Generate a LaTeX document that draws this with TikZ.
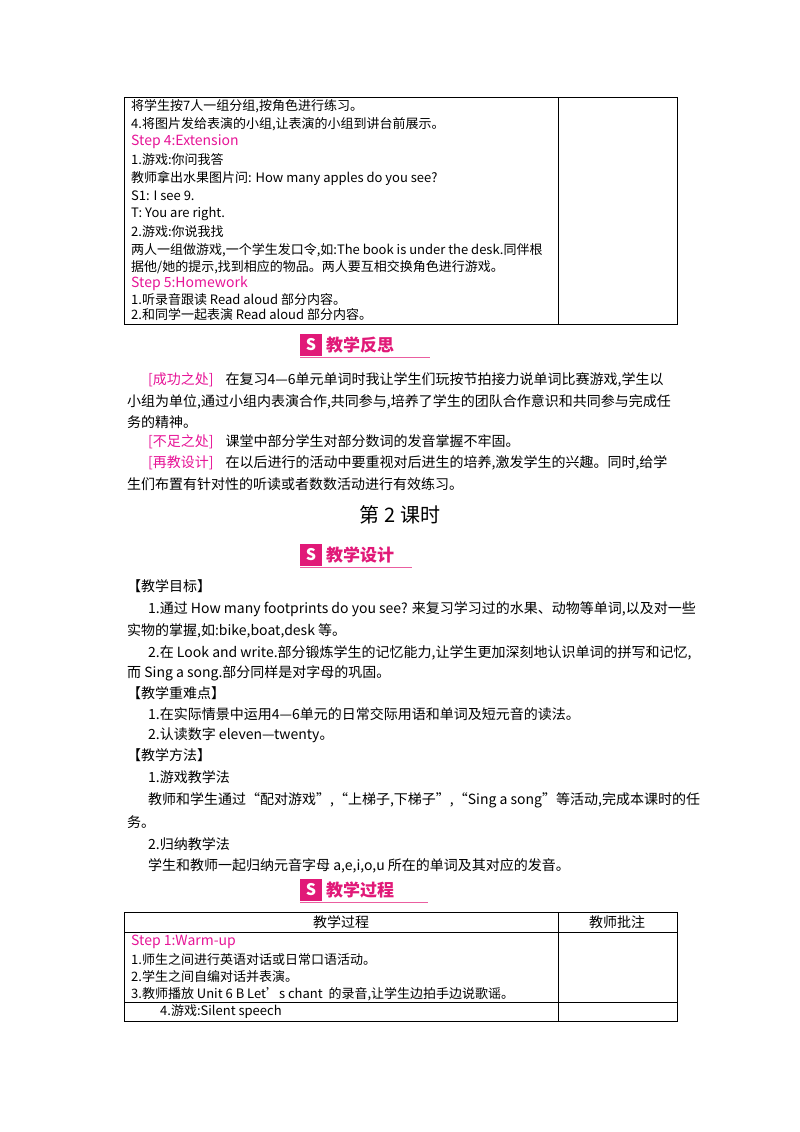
\documentclass[tikz,border=0pt]{standalone}
\usepackage{fontspec}
\setmainfont{Noto Sans CJK SC}
\definecolor{pk}{RGB}{230,20,150}
\definecolor{bn}{RGB}{225,25,120}
\begin{document}
\begin{tikzpicture}[x=1pt,y=-1pt,
 t/.style={anchor=west,inner sep=0pt,font=\fontsize{13}{14}\selectfont},
 b/.style={anchor=west,inner sep=0pt,font=\fontsize{14}{16}\selectfont},
 pkt/.style={t,text=pk,font=\fontsize{14}{16}\selectfont},
 bline/.style={line width=0.8pt}]
\useasboundingbox (0,0) rectangle (800,1132);
% table 1
\draw[bline] (124,97) rectangle (677,324) (558,97) -- (558,324);
\node[t] (a1) at (131,106) {将学生按7人一组分组,按角色进行练习。};
\node[t] (a2) at (131,124) {4.将图片发给表演的小组,让表演的小组到讲台前展示。};
\node[pkt] (a3) at (131,142) {Step 4:Extension};
\node[t] (a4) at (131,160) {1.游戏:你问我答};
\node[t] (a5) at (131,178) {教师拿出水果图片问: How many apples do you see?};
\node[t] (a6) at (131,196) {S1: I see 9.};
\node[t] (a7) at (131,214) {T: You are right.};
\node[t] (a8) at (131,232) {2.游戏:你说我找};
\node[t] (a9) at (131,250) {两人一组做游戏,一个学生发口令,如:The book is under the desk.同伴根};
\node[t] (a10) at (131,267) {据他/她的提示,找到相应的物品。两人要互相交换角色进行游戏。};
\node[pkt] (a11) at (131,284) {Step 5:Homework};
\node[t] (a12) at (131,300) {1.听录音跟读 Read aloud 部分内容。};
\node[t] (a13) at (131,315) {2.和同学一起表演 Read aloud 部分内容。};
% banners
\foreach \y/\w/\txt/\nm in {345/430/教学反思/ban1,555/412/教学设计/ban2,890/428/教学过程/ban3}{
 \fill[bn] (300,\y-11) rectangle (322,\y+11);
 \node[text=white,font=\bfseries\fontsize{16}{16}\selectfont,inner sep=0pt] at (311,\y) {S};
 \node[anchor=west,text=bn,font=\bfseries\fontsize{17}{18}\selectfont,inner sep=0pt] (\nm) at (326,\y) {\txt};
 \draw[bn!70,line width=1pt] (300,\y+12) -- (\w,\y+12);
}
% reflection
\node[b] (r1) at (148,380) {\textcolor{pk}{[成功之处]}\hspace{12pt}在复习4—6单元单词时我让学生们玩按节拍接力说单词比赛游戏,学生以};
\node[b] (r2) at (127,402) {小组为单位,通过小组内表演合作,共同参与,培养了学生的团队合作意识和共同参与完成任};
\node[b] (r3) at (127,422) {务的精神。};
\node[b] (r4) at (148,442) {\textcolor{pk}{[不足之处]}\hspace{12pt}课堂中部分学生对部分数词的发音掌握不牢固。};
\node[b] (r5) at (148,463) {\textcolor{pk}{[再教设计]}\hspace{12pt}在以后进行的活动中要重视对后进生的培养,激发学生的兴趣。同时,给学};
\node[b] (r6) at (127,484) {生们布置有针对性的听读或者数数活动进行有效练习。};
\node[inner sep=0pt,font=\fontsize{20}{22}\selectfont] (h2) at (400,515) {第 2 课时};
% design
\node[b] (d1) at (127,586) {【教学目标】};
\node[b] (d2) at (148,609) {1.通过 How many footprints do you see? 来复习学习过的水果、动物等单词,以及对一些};
\node[b] (d3) at (127,631) {实物的掌握,如:bike,boat,desk 等。};
\node[b] (d4) at (148,653) {2.在 Look and write.部分锻炼学生的记忆能力,让学生更加深刻地认识单词的拼写和记忆,};
\node[b] (d5) at (127,673) {而 Sing a song.部分同样是对字母的巩固。};
\node[b] (d6) at (127,693) {【教学重难点】};
\node[b] (d7) at (148,714) {1.在实际情景中运用4—6单元的日常交际用语和单词及短元音的读法。};
\node[b] (d8) at (148,735) {2.认读数字 eleven—twenty。};
\node[b] (d9) at (127,755) {【教学方法】};
\node[b] (d10) at (148,777) {1.游戏教学法};
\node[b] (d11) at (148,800) {教师和学生通过“配对游戏”,“上梯子,下梯子”,“Sing a song”等活动,完成本课时的任};
\node[b] (d12) at (127,822) {务。};
\node[b] (d13) at (148,844) {2.归纳教学法};
\node[b] (d14) at (148,866) {学生和教师一起归纳元音字母 a,e,i,o,u 所在的单词及其对应的发音。};
% table 2
\draw[bline] (124,912) rectangle (677,1021) (558,912) -- (558,1021)
 (124,932) -- (677,932) (124,1002) -- (677,1002);
\node[inner sep=0pt,font=\fontsize{14}{16}\selectfont] (c1) at (341,922) {教学过程};
\node[inner sep=0pt,font=\fontsize{14}{16}\selectfont] (c2) at (617,922) {教师批注};
\node[pkt] (s1) at (131,942) {Step 1:Warm-up};
\node[t] (s2) at (131,960) {1.师生之间进行英语对话或日常口语活动。};
\node[t] (s3) at (131,977) {2.学生之间自编对话并表演。};
\node[t] (s4) at (131,994) {3.教师播放 Unit 6 B Let's chant\ \ 的录音,让学生边拍手边说歌谣。};
\node[t] (s5) at (160,1012) {4.游戏:Silent speech};
\end{tikzpicture}
\end{document}
